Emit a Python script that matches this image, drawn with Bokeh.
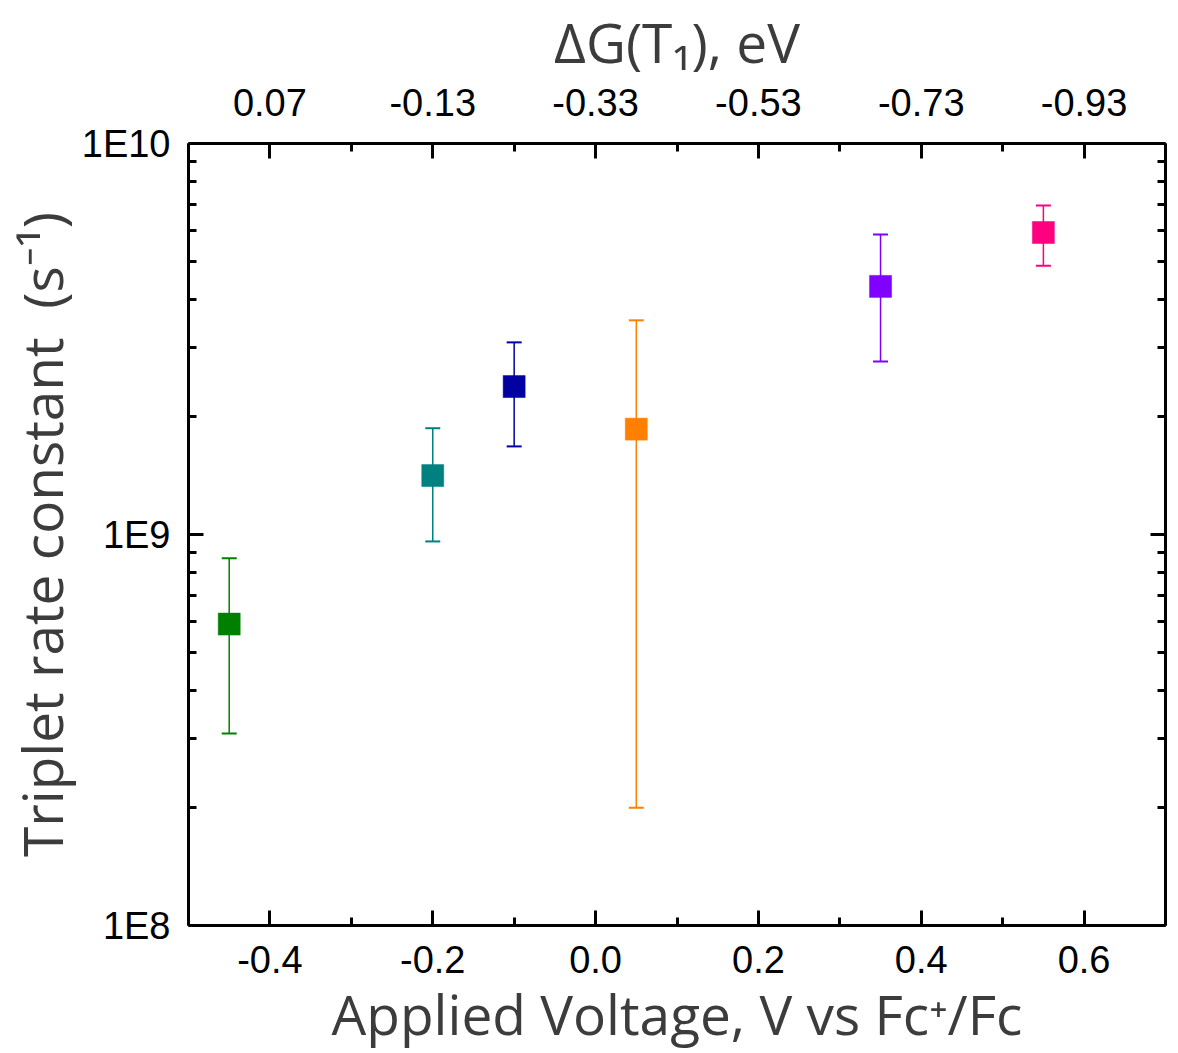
from bokeh.plotting import figure
from bokeh.models import (ColumnDataSource, FixedTicker, LinearAxis, LogAxis, Range1d,
                          CustomJSTickFormatter, PrintfTickFormatter)
from bokeh.embed import file_html
from bokeh.resources import INLINE

# Data
voltage = [-0.45, -0.20, -0.10, 0.05, 0.35, 0.55]
rate = [5.9e8, 1.415e9, 2.39e9, 1.86e9, 4.31e9, 5.92e9]
rate_hi = [8.7e8, 1.87e9, 3.1e9, 3.53e9, 5.85e9, 6.94e9]
rate_lo = [3.1e8, 9.6e8, 1.68e9, 2.0e8, 2.77e9, 4.87e9]
colors = ["#008000", "#008080", "#0000A0", "#FF8000", "#8000FF", "#FF0080"]

x_ticks = [-0.4, -0.2, 0.0, 0.2, 0.4, 0.6]
x_minor = [-0.5, -0.3, -0.1, 0.1, 0.3, 0.5, 0.7]
dg_ticks = [0.07, -0.13, -0.33, -0.53, -0.73, -0.93]
dg_minor = [0.17, -0.03, -0.23, -0.43, -0.63, -0.83, -1.03]
y_ticks = [1e8, 1e9, 1e10]
y_minor = [m * 10 ** e for e in (8, 9) for m in range(2, 10)]

src = ColumnDataSource(dict(x=voltage, y=rate, hi=rate_hi, lo=rate_lo, c=colors))

p = figure(width=1173, height=1053, x_range=Range1d(-0.5, 0.7), y_range=Range1d(1e8, 1e10),
           y_axis_type="log", output_backend="svg", toolbar_location=None,
           min_border_left=188, min_border_right=8, min_border_top=143, min_border_bottom=128)
p.extra_x_ranges = {"dg": Range1d(0.17, -1.03)}
p.xgrid.visible = False
p.ygrid.visible = False
p.outline_line_color = None

tick_font = "Liberation Sans"
label_font = "Open Sans"


def style(ax, labels=True):
    ax.axis_line_width = 3
    ax.major_tick_line_width = 3
    ax.minor_tick_line_width = 3
    ax.major_tick_in = 15
    ax.major_tick_out = 0
    ax.minor_tick_in = 8
    ax.minor_tick_out = 0
    ax.major_label_text_font = tick_font
    ax.major_label_text_font_size = "38px" if labels else "0px"
    ax.major_label_text_color = "black"
    ax.axis_label_text_font = label_font
    ax.axis_label_text_font_style = "normal"
    ax.axis_label_text_font_size = "55px"
    ax.axis_label_text_color = "#3c3c3c"


xa = p.xaxis[0]
xa.ticker = FixedTicker(ticks=x_ticks, minor_ticks=x_minor)
xa.formatter = PrintfTickFormatter(format="%.1f")
xa.axis_label = "Applied Voltage, V vs Fc\u207a/Fc"
style(xa)
xa.major_label_standoff = 20
xa.axis_label_standoff = 0

ya = p.yaxis[0]
ya.ticker = FixedTicker(ticks=y_ticks, minor_ticks=y_minor)
ya.formatter = CustomJSTickFormatter(code="return '1E' + Math.round(Math.log10(tick));")
ya.axis_label = "Triplet rate constant \u00a0(s\u207b\u00b9)"
style(ya)
ya.major_label_standoff = 18
ya.axis_label_standoff = 0

top = LinearAxis(x_range_name="dg", ticker=FixedTicker(ticks=dg_ticks, minor_ticks=dg_minor),
                 formatter=PrintfTickFormatter(format="%.2f"), axis_label="\u0394G(T\u2081), eV")
style(top)
top.major_label_standoff = 28
top.axis_label_standoff = 7
p.add_layout(top, "above")

right = LogAxis(ticker=FixedTicker(ticks=y_ticks, minor_ticks=y_minor),
                formatter=CustomJSTickFormatter(code="return '';"))
style(right, labels=False)
right.major_label_standoff = 0
p.add_layout(right, "right")

p.segment(x0="x", y0="lo", x1="x", y1="hi", line_color="c", line_width=1.5, source=src)
p.scatter(x="x", y="hi", marker="dash", size=15, line_color="c", line_width=2, source=src)
p.scatter(x="x", y="lo", marker="dash", size=15, line_color="c", line_width=2, source=src)
p.scatter(x="x", y="y", marker="square", size=22, fill_color="c", line_color="c",
          line_alpha=0.5, source=src)

open("out.html", "w").write(file_html(p, INLINE))
